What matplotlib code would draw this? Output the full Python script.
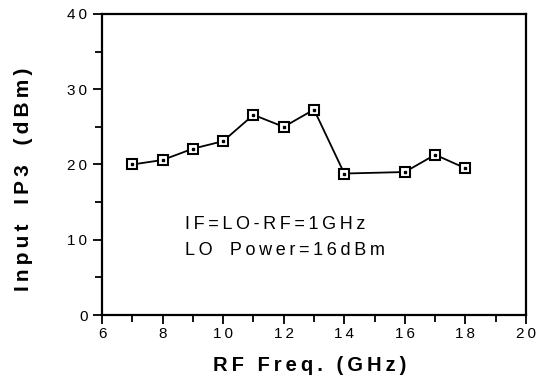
import matplotlib
matplotlib.use("Agg")
import matplotlib.pyplot as plt

plt.rcParams['font.family'] = ['Liberation Sans', 'DejaVu Sans']

# RF frequency (GHz) and input IP3 (dBm)
freq = [7, 8, 9, 10, 11, 12, 13, 14, 16, 17, 18]
ip3 = [20.0, 20.6, 22.1, 23.1, 26.6, 25.0, 27.3, 18.8, 19.0, 21.3, 19.5]

xticks = [6, 8, 10, 12, 14, 16, 18, 20]
yticks = [0, 10, 20, 30, 40]

THIN = '\u2009'


def spaced(s, word_gap=' '):
    # the original lettering is set with wide tracking
    words = [THIN.join(w) for w in s.split(' ')]
    return (THIN + word_gap + THIN).join(words)


fig = plt.figure(figsize=(5.37, 3.83), dpi=100)
ax = fig.add_axes([0.19, 0.1775, 0.7895, 0.786])

ax.plot(freq, ip3, color='black', lw=1.3, marker='s', ms=7,
        mfc='white', mec='black', mew=1.5)
ax.plot(freq, ip3, ls='none', marker='s', ms=1.8, color='black')

ax.set_xlim(6, 20)
ax.set_ylim(0, 40)
ax.set_xticks(xticks, labels=[spaced(str(t)) for t in xticks])
ax.set_yticks(yticks, labels=[spaced(str(t)) for t in yticks])
ax.set_xticks(range(7, 20, 2), minor=True)
ax.set_yticks(range(5, 40, 10), minor=True)
ax.tick_params(which='both', direction='out', width=1.3, labelsize=11)
ax.tick_params(which='major', length=6.5)
ax.tick_params(which='minor', length=5)
ax.tick_params(axis='x', pad=2)
ax.tick_params(axis='y', pad=4)
for s in ax.spines.values():
    s.set_linewidth(1.6)

ax.set_xlabel(spaced('RF Freq. (GHz)'), fontsize=14.5, fontweight='bold')
ax.xaxis.set_label_coords(0.49, -0.137)
ax.set_ylabel(spaced('Input IP3 (dBm)', word_gap='  '), fontsize=15,
              fontweight='bold')
ax.yaxis.set_label_coords(-0.163, 0.45)

ax.text(8.75, 12.0, spaced('IF=LO-RF=1GHz'), fontsize=13, va='center')
ax.text(8.75, 8.6, spaced('LO Power=16dBm', word_gap='  '), fontsize=13,
        va='center')

fig.savefig('out.png', dpi=100)
